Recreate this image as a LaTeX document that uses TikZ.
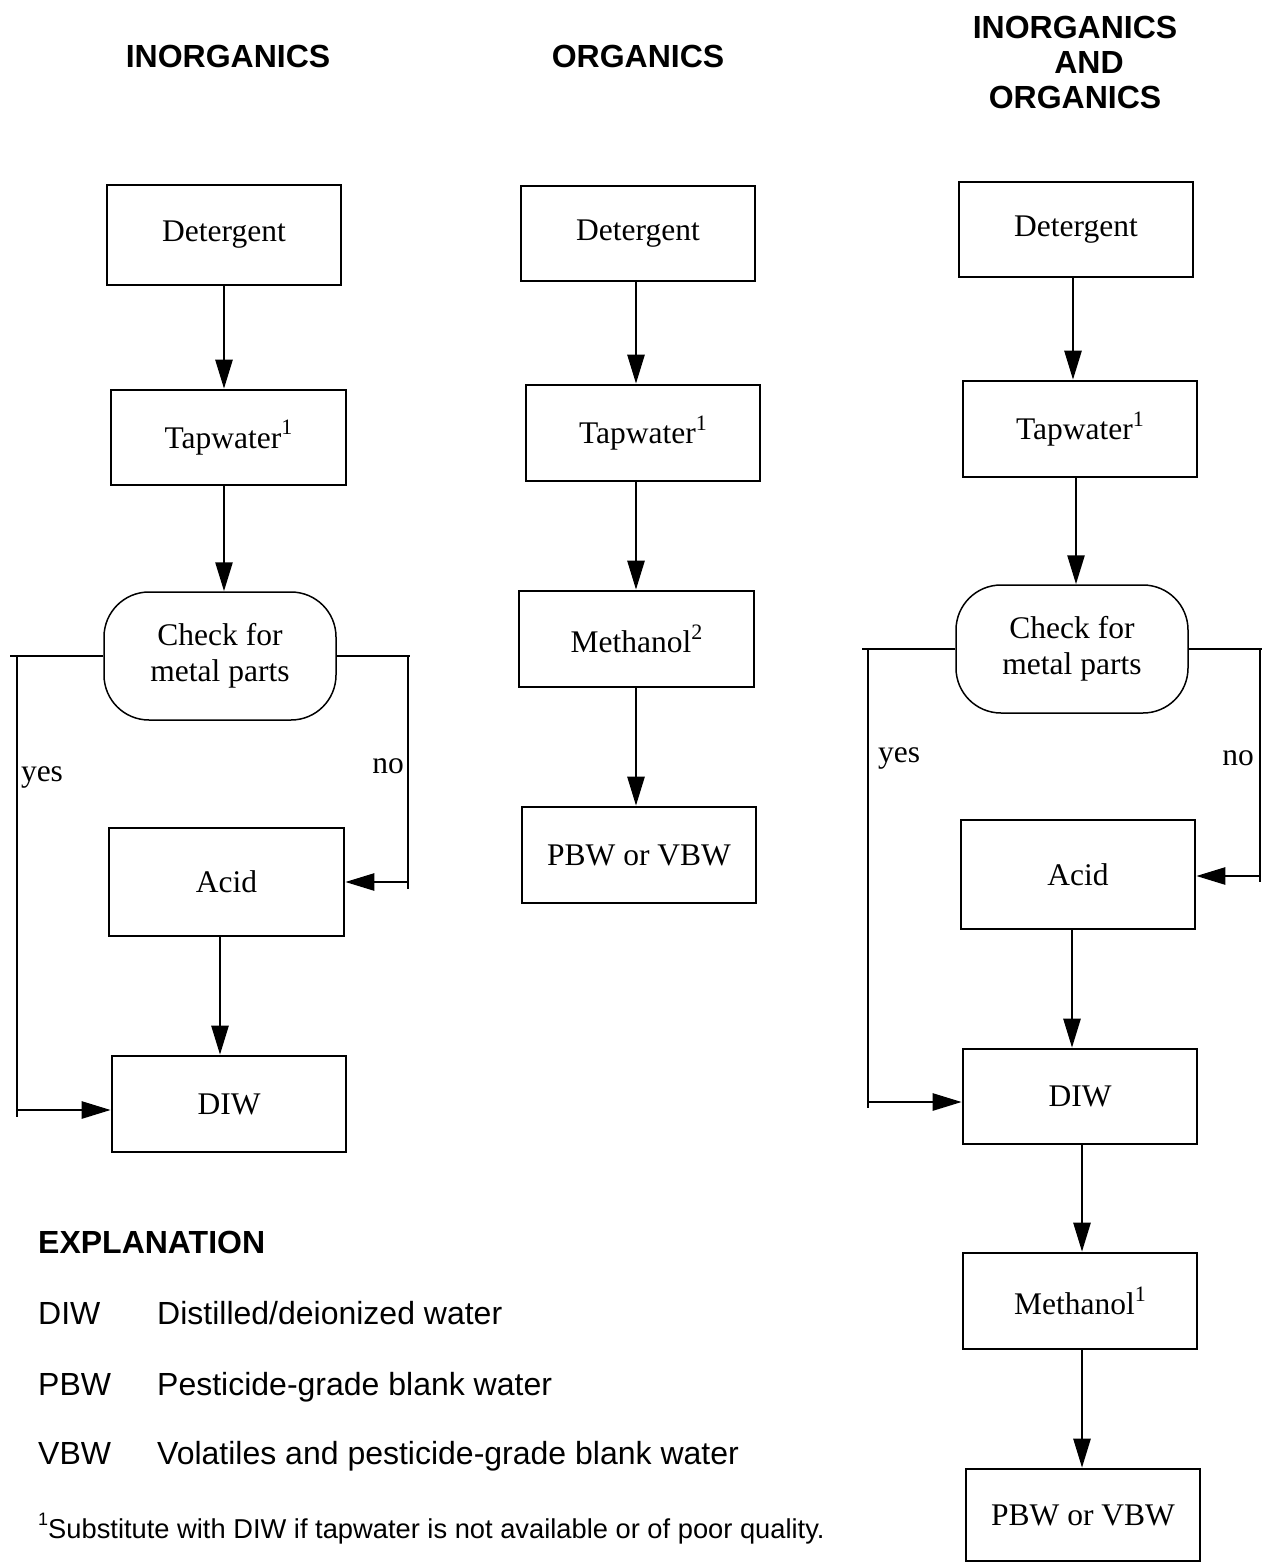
\documentclass[tikz,border=0pt]{standalone}
\usepackage{fontspec}
\setmainfont{Liberation Serif}
\newfontfamily\arialfont{Liberation Sans}
\usetikzlibrary{arrows.meta}
\newcommand\supnum[1]{\raisebox{0.42em}{\fontsize{22}{22}\selectfont #1}}
\newcommand\fnsup[1]{\raisebox{0.45em}{\fontsize{18}{18}\selectfont #1}}
\begin{document}
\begin{tikzpicture}[x=1pt,y=-1pt,
  bx/.style={draw, line width=2.6pt, inner sep=0pt, font=\fontsize{31.5}{36}\selectfont},
  rbx/.style={draw, line width=1.5pt, rounded corners=45pt, inner sep=0pt, align=center, font=\fontsize{31.5}{36}\selectfont},
  ln/.style={line width=2.6pt},
  arr/.style={line width=2.6pt, -{Triangle[length=29pt,width=17pt]}},
  hd/.style={font=\arialfont\bfseries\fontsize{32}{35}\selectfont, align=center},
  lbl/.style={font=\fontsize{31.5}{36}\selectfont, inner sep=0pt},
  ex/.style={font=\arialfont\fontsize{32}{36}\selectfont, anchor=base west, inner sep=0pt},
]
\useasboundingbox (0,0) rectangle (1263,1562);

% headings
\node[hd] (h1) at (228,56) {INORGANICS};
\node[hd] (h2) at (638,56) {ORGANICS};
\node[hd] (h3) at (1075,62) {INORGANICS\\\hspace*{28pt}AND\\ORGANICS};

% column 1
\node[bx, minimum width=234pt, minimum height=100pt] (det1) at (224,235) {Detergent};
\node[bx, minimum width=235pt, minimum height=95pt] (tap1) at (228.5,437.5) {Tapwater\supnum{1}};
\node[rbx, minimum width=232pt, minimum height=128pt] (chk1) at (220,656) {Check for\\metal parts};
\node[bx, minimum width=235pt, minimum height=108pt] (acid1) at (226.5,882) {Acid};
\node[bx, minimum width=234pt, minimum height=96pt] (diw1) at (229,1104) {DIW};

\coordinate (c1a) at (224,0);
\coordinate (c1b) at (220,0);
\draw[arr] (det1.south -| c1a) -- (tap1.north -| c1a);
\draw[arr] (tap1.south -| c1a) -- (chk1.north -| c1a);
\draw[arr] (acid1.south -| c1b) -- (diw1.north -| c1b);

\coordinate (y1t) at (17,656);
\coordinate (y1b) at (17,1110);
\draw[ln] (chk1.west) -- (10,656);
\draw[ln] (y1t) -- (17,1117);
\draw[arr] (y1b) -- (y1b -| diw1.west);
\node[lbl] (yes1) at (42,777) {yes};

\coordinate (n1t) at (408,656);
\coordinate (n1b) at (408,882);
\draw[ln] (chk1.east) -- (410,656);
\draw[ln] (n1t) -- (408,889);
\draw[arr] (n1b) -- (acid1.east);
\node[lbl] (no1) at (388,766) {no};

% column 2
\node[bx, minimum width=234pt, minimum height=95pt] (det2) at (638,233.5) {Detergent};
\node[bx, minimum width=234pt, minimum height=96pt] (tap2) at (643,433) {Tapwater\supnum{1}};
\node[bx, minimum width=235pt, minimum height=96pt] (meth2) at (636.5,639) {Methanol\supnum{2}};
\node[bx, minimum width=234pt, minimum height=96pt] (pbw2) at (639,855) {PBW or VBW};

\coordinate (c2) at (636,0);
\draw[arr] (det2.south -| c2) -- (tap2.north -| c2);
\draw[arr] (tap2.south -| c2) -- (meth2.north -| c2);
\draw[arr] (meth2.south -| c2) -- (pbw2.north -| c2);

% column 3
\node[bx, minimum width=234pt, minimum height=95pt] (det3) at (1076,229.5) {Detergent};
\node[bx, minimum width=234pt, minimum height=96pt] (tap3) at (1080,429) {Tapwater\supnum{1}};
\node[rbx, minimum width=232pt, minimum height=128pt] (chk3) at (1072,649) {Check for\\metal parts};
\node[bx, minimum width=234pt, minimum height=109pt] (acid3) at (1078,874.5) {Acid};
\node[bx, minimum width=234pt, minimum height=95pt] (diw3) at (1080,1096.5) {DIW};
\node[bx, minimum width=234pt, minimum height=96pt] (meth3) at (1080,1301) {Methanol\supnum{1}};
\node[bx, minimum width=234pt, minimum height=92pt] (pbw3) at (1083,1515) {PBW or VBW};

\coordinate (c3a) at (1073,0);
\coordinate (c3b) at (1076,0);
\coordinate (c3c) at (1072,0);
\coordinate (c3d) at (1082,0);
\draw[arr] (det3.south -| c3a) -- (tap3.north -| c3a);
\draw[arr] (tap3.south -| c3b) -- (chk3.north -| c3b);
\draw[arr] (acid3.south -| c3c) -- (diw3.north -| c3c);
\draw[arr] (diw3.south -| c3d) -- (meth3.north -| c3d);
\draw[arr] (meth3.south -| c3d) -- (pbw3.north -| c3d);

\coordinate (y3t) at (868,649);
\coordinate (y3b) at (868,1102);
\draw[ln] (chk3.west) -- (862,649);
\draw[ln] (y3t) -- (868,1108);
\draw[arr] (y3b) -- (y3b -| diw3.west);
\node[lbl] (yes3) at (899,758) {yes};

\coordinate (n3t) at (1260,649);
\coordinate (n3b) at (1260,876);
\draw[ln] (chk3.east) -- (1262,649);
\draw[ln] (n3t) -- (1260,882);
\draw[arr] (n3b) -- (n3b -| acid3.east);
\node[lbl] (no3) at (1238,758) {no};

% explanation
\node[ex, font=\arialfont\bfseries\fontsize{32}{36}\selectfont] (exh) at (38,1253) {EXPLANATION};
\node[ex] (k1) at (38,1324) {DIW};
\node[ex] (d1) at (157,1324) {Distilled/deionized water};
\node[ex] (k2) at (38,1395) {PBW};
\node[ex] (d2) at (157,1395) {Pesticide-grade blank water};
\node[ex] (k3) at (38,1464) {VBW};
\node[ex] (d3) at (157,1464) {Volatiles and pesticide-grade blank water};
\node[ex, font=\arialfont\fontsize{27.3}{30}\selectfont] (fn) at (38,1538) {\fnsup{1}Substitute with DIW if tapwater is not available or of poor quality.};
\end{tikzpicture}
\end{document}
